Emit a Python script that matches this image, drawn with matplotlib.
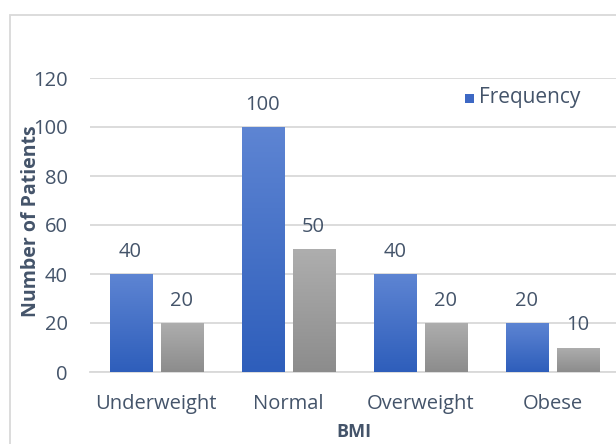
import matplotlib
matplotlib.use("Agg")
import matplotlib.pyplot as plt
import numpy as np
from matplotlib.patches import Rectangle
from matplotlib.colors import LinearSegmentedColormap

categories = ["Underweight", "Normal", "Overweight", "Obese"]
frequency = [40, 100, 40, 20]
percent = [20, 50, 20, 10]
y_ticks = [0, 20, 40, 60, 80, 100, 120]

text_col = "#44546A"
grid_col = "#D9D9D9"
plt.rcParams["font.family"] = ["Open Sans", "DejaVu Sans"]
plt.rcParams["ytick.major.pad"] = 16
plt.rcParams["xtick.major.pad"] = 16

fig = plt.figure(figsize=(6.16, 4.44), dpi=100)
ax = fig.add_axes([90 / 616, 72 / 444, 528.5 / 616, 294 / 444])

blue_cmap = LinearSegmentedColormap.from_list("b", ["#2E5EBB", "#5E85D3"])
gray_cmap = LinearSegmentedColormap.from_list("g", ["#8C8C8C", "#AEAEAE"])

x = np.arange(len(categories))
width = 0.318
off = 0.193


def gradient_bars(xs, vals, cmap):
    bars = ax.bar(xs, vals, width, color="none", edgecolor="none", zorder=3)
    grad = np.linspace(0, 1, 256).reshape(-1, 1)
    for b in bars:
        x0, y0 = b.get_x(), b.get_y()
        w, h = b.get_width(), b.get_height()
        # soft shadow under each bar
        sh = Rectangle((x0 + 0.01, y0 - 0.6), w, h, facecolor="#000000", alpha=0.08,
                       edgecolor="none", zorder=2)
        ax.add_patch(sh)
        im = ax.imshow(grad, cmap=cmap, origin="lower", aspect="auto",
                       extent=(x0, x0 + w, y0, y0 + h), zorder=3)
        im.set_clip_path(b)
    return bars


gradient_bars(x - off, frequency, blue_cmap)
gradient_bars(x + off, percent, gray_cmap)

for xi, v in zip(x - off, frequency):
    ax.text(xi, v + 5, str(v), ha="center", va="bottom", fontsize=14.5, color=text_col)
for xi, v in zip(x + off, percent):
    ax.text(xi, v + 5, str(v), ha="center", va="bottom", fontsize=14.5, color=text_col)

ax.set_xlim(-0.5, 3.5)
ax.set_ylim(0, 120)
ax.set_yticks(y_ticks)
ax.set_xticks(x)
ax.set_xticklabels(categories)
ax.tick_params(axis="both", length=0, labelsize=14.5, labelcolor=text_col)
ax.yaxis.grid(True, color=grid_col, linewidth=1.3, zorder=0)
ax.set_axisbelow(True)
for s in ["top", "right", "left"]:
    ax.spines[s].set_visible(False)
ax.spines["bottom"].set_color(grid_col)
ax.spines["bottom"].set_linewidth(1.3)

fig.text(354 / 616, 1 - 432 / 444, "BMI", ha="center", va="center",
         fontsize=13, fontweight="bold", color=text_col)
fig.text(31 / 616, 1 - 221 / 444, "Number of Patients", rotation=90, ha="center", va="center",
         fontsize=14, fontweight="bold", color=text_col)

# legend entry for the blue series only
fig.patches.append(Rectangle((465 / 616, 1 - 103 / 444), 9 / 616, 9 / 444,
                             transform=fig.transFigure, facecolor="#3D68C4",
                             edgecolor="none", figure=fig))
fig.text(479 / 616, 1 - 98 / 444, "Frequency", ha="left", va="center",
         fontsize=15, color=text_col)

# outer chart border
fig.patches.append(Rectangle((10 / 616, -0.1), 1.2, 1 - 15 / 444 + 0.1,
                             transform=fig.transFigure, facecolor="none",
                             edgecolor=grid_col, linewidth=1.3, figure=fig))

fig.savefig("out.png", dpi=100)
